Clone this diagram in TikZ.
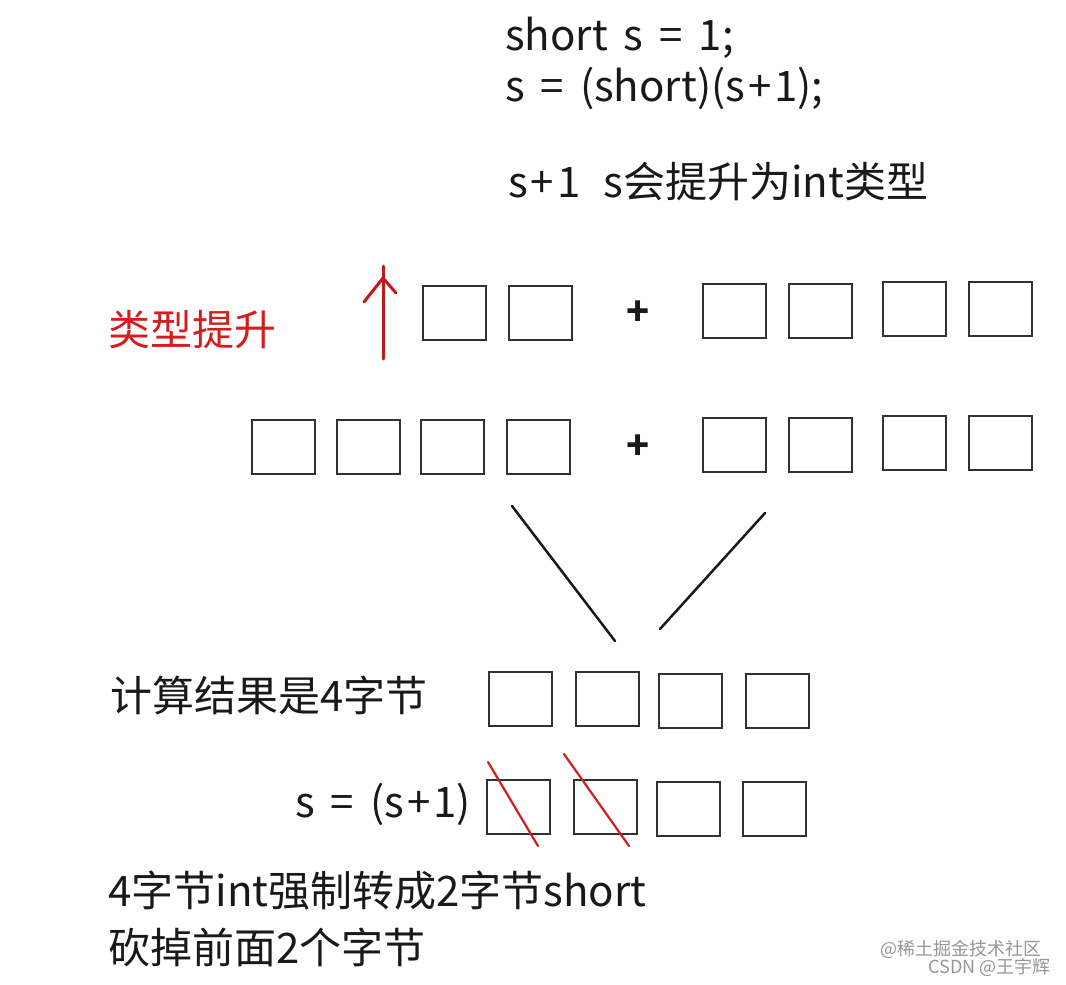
\documentclass[tikz,border=0pt]{standalone}
\usepackage{fontspec}
\setmainfont{Noto Sans CJK SC}
\newfontfamily\codefont[WordSpace=1.7]{Noto Sans CJK SC}
\definecolor{ink}{RGB}{25,25,25}
\definecolor{boxgray}{RGB}{50,50,50}
\definecolor{redink}{RGB}{210,30,30}
\definecolor{wmgray}{RGB}{150,150,150}
\newcommand{\pl}{\kern3pt+\kern3pt}
\begin{document}
\begin{tikzpicture}[x=1pt,y=-1pt,
  cell/.style={draw=boxgray, line width=2pt, minimum width=63pt, minimum height=54pt, inner sep=0pt},
  txt/.style={anchor=base west, inner sep=0pt, font=\fontsize{42}{48}\selectfont, text=ink},
  codetxt/.style={txt, font=\codefont\fontsize{42}{48}\selectfont},
  redtxt/.style={txt, text=redink},
  plus/.style={inner sep=0pt, font=\fontsize{38}{40}\selectfont\bfseries, text=ink},
  wm/.style={inner sep=0pt, font=\fontsize{18}{20}\selectfont, text=wmgray},
  blackline/.style={draw=ink, line width=2.5pt, line cap=round},
  redline/.style={draw=redink, line width=2.2pt, line cap=round},
  redarrow/.style={draw=redink!90!black, line width=3pt, line cap=round, line join=round}]
\useasboundingbox (0,0) rectangle (1066,985);

% code text
\node[codetxt] (code1) at (505,50) {short s = 1;};
\node[codetxt] (code2) at (505,101) {s = (short)(s\pl 1);};
\node[codetxt] (note) at (508,197) {s\pl 1\hspace{0.55em}s会提升为int类型};

% row 1
\node[redtxt] (promo) at (108,345) {类型提升};
\coordinate (arrbot) at (383,359);
\coordinate (arrtop) at (383,266);
\coordinate (armL) at (364,302);
\coordinate (armJ) at (383,278);
\coordinate (armR) at (396,293);
\draw[redarrow] (arrbot) -- (arrtop);
\draw[redarrow] (armL) -- (armJ) -- (armR);

\node[cell] (a1) at (454.5,313) {};
\node[cell] (a2) at (540.5,313) {};
\node[plus] (p1) at (638,313) {+};
\node[cell] (b1) at (734.5,310.5) {};
\node[cell] (b2) at (820.5,310.5) {};
\node[cell] (b3) at (914.5,309) {};
\node[cell] (b4) at (1000.5,309) {};

% row 2
\node[cell] (c1) at (283,447) {};
\node[cell] (c2) at (368.5,447) {};
\node[cell] (c3) at (452.5,447) {};
\node[cell] (c4) at (538.5,447) {};
\node[plus] (p2) at (638,447) {+};
\node[cell] (d1) at (734.5,445) {};
\node[cell] (d2) at (820.5,445) {};
\node[cell] (d3) at (914.5,443) {};
\node[cell] (d4) at (1000.5,443) {};

% converging lines
\coordinate (l1s) at (512,506);
\coordinate (l1e) at (615,641);
\coordinate (l2s) at (765,513);
\coordinate (l2e) at (660,629);
\draw[blackline] (l1s) -- (l1e);
\draw[blackline] (l2s) -- (l2e);

% row 3
\node[txt] (res) at (110,711) {计算结果是4字节};
\node[cell] (e1) at (520.5,699) {};
\node[cell] (e2) at (607,699) {};
\node[cell] (e3) at (690.5,701) {};
\node[cell] (e4) at (777,701) {};

% row 4
\node[codetxt] (assign) at (295,817) {s = (s\pl 1)};
\node[cell] (f1) at (518.5,806.5) {};
\node[cell] (f2) at (605,806.5) {};
\node[cell] (f3) at (688.5,809) {};
\node[cell] (f4) at (774.5,809) {};
\coordinate (x1s) at (488,762);
\coordinate (x1e) at (538,846);
\coordinate (x2s) at (564,754);
\coordinate (x2e) at (629,846);
\draw[redline] (x1s) -- (x1e);
\draw[redline] (x2s) -- (x2e);

% bottom text
\node[txt] (cast1) at (108,906) {4字节int强制转成2字节short};
\node[txt] (cast2) at (108,963) {砍掉前面2个字节};

% watermark
\node[wm, anchor=base west] (wm1) at (880,955) {@稀土掘金技术社区};
\node[wm, anchor=base east] (wm2) at (1051,973) {CSDN @王宇辉};
\end{tikzpicture}
\end{document}
